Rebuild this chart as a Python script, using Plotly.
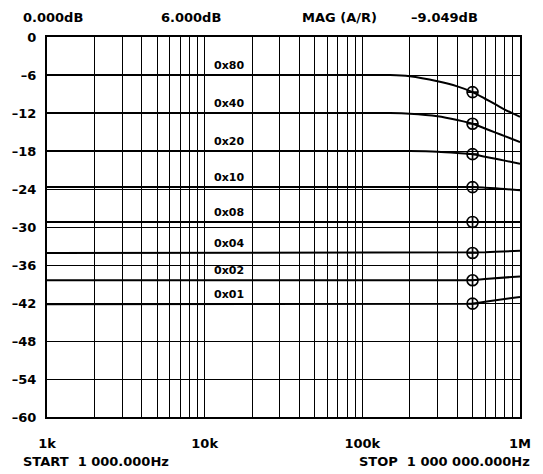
import math
import plotly.graph_objects as go

freq_hz = [1000, 10000, 100000, 150000, 200000, 300000, 400000, 500000, 600000, 700000, 800000, 1000000]

series_names = ["0x80", "0x40", "0x20", "0x10", "0x08", "0x04", "0x02", "0x01"]
mag_0x80 = [-6.0, -6.0, -6.0, -6.0, -6.2, -7.0, -7.8, -8.7, -9.75, -10.65, -11.45, -12.6]
mag_0x40 = [-12.0, -12.0, -12.0, -12.0, -12.1, -12.5, -13.1, -13.7, -14.45, -15.1, -15.65, -16.6]
mag_0x20 = [-18.0, -18.0, -18.0, -18.0, -18.0, -18.1, -18.3, -18.5, -18.9, -19.23, -19.52, -20.0]
mag_0x10 = [-23.7, -23.7, -23.7, -23.7, -23.7, -23.7, -23.7, -23.7, -23.8, -23.9, -24.0, -24.2]
mag_0x08 = [-29.2, -29.2, -29.2, -29.2, -29.2, -29.2, -29.2, -29.2, -29.2, -29.2, -29.2, -29.2]
mag_0x04 = [-34.1, -34.1, -34.1, -34.1, -34.1, -34.1, -34.1, -34.1, -34.0, -33.9, -33.85, -33.75]
mag_0x02 = [-38.4, -38.4, -38.4, -38.4, -38.4, -38.4, -38.4, -38.4, -38.2, -38.05, -37.95, -37.8]
mag_0x01 = [-42.2, -42.2, -42.2, -42.2, -42.2, -42.2, -42.2, -42.1, -41.8, -41.55, -41.35, -41.05]
all_series = [mag_0x80, mag_0x40, mag_0x20, mag_0x10, mag_0x08, mag_0x04, mag_0x02, mag_0x01]
smooth_series = ["0x80", "0x40", "0x20", "0x10"]

marker_freq = 500000
label_freq = 14300

y_ticks = [0, -6, -12, -18, -24, -30, -36, -42, -48, -54, -60]
y_tick_text = ["0", "–6", "–12", "–18", "–24", "–30", "–36", "–42", "–48", "–54", "–60"]
x_decades = [1000, 10000, 100000, 1000000]
x_decade_text = ["1k", "10k", "100k", "1M"]

header_texts = ["0.000dB", "6.000dB", "MAG (A/R)", "–9.049dB"]
footer_texts = ["START\u00a0 1 000.000Hz", "STOP\u00a0 1 000 000.000Hz"]

FONT = "DejaVu Sans"
W, H = 543, 474
L, R, T, B = 43, 20, 37, 57
PW = W - L - R
PH = H - T - B

fig = go.Figure()
idx = freq_hz.index(marker_freq)
for name, vals in zip(series_names, all_series):
    shape = "spline" if name in smooth_series else "linear"
    fig.add_trace(go.Scatter(x=freq_hz, y=vals, mode="lines", name=name,
                             line=dict(color="black", width=2, shape=shape, smoothing=0.8),
                             showlegend=False, hoverinfo="skip"))
    fig.add_annotation(x=math.log10(label_freq), y=vals[0], text="<b>%s</b>" % name,
                       showarrow=False, yanchor="bottom", yshift=1, xref="x", yref="y",
                       font=dict(family=FONT, size=11, color="black"))

fig.add_trace(go.Scatter(x=[marker_freq] * len(all_series), y=[v[idx] for v in all_series],
                         mode="markers", showlegend=False, hoverinfo="skip",
                         marker=dict(symbol="circle-cross-open", size=11, color="black",
                                     line=dict(width=1.6, color="black"))))

# gridlines at every 1..9 multiple per decade
grid_vals = []
grid_text = []
for d in [1000, 10000, 100000]:
    for m in range(1, 10):
        grid_vals.append(d * m)
        grid_text.append("")
grid_vals.append(1000000)
grid_text.append("")
for dv, dt in zip(x_decades, x_decade_text):
    grid_text[grid_vals.index(dv)] = "<b>%s</b>" % dt

fig.update_xaxes(type="log", range=[3, 6], tickvals=grid_vals, ticktext=grid_text,
                 showgrid=True, gridcolor="black", gridwidth=1, zeroline=False,
                 showline=True, linecolor="black", linewidth=2, mirror=True,
                 ticks="", ticklabelstandoff=13,
                 tickfont=dict(family=FONT, size=13, color="black"))
fig.update_yaxes(range=[-60, 0], tickvals=y_ticks, ticktext=["<b>%s</b>" % t for t in y_tick_text],
                 showgrid=True, gridcolor="black", gridwidth=1, zeroline=False,
                 showline=True, linecolor="black", linewidth=2, mirror=True,
                 ticks="", ticklabelstandoff=6,
                 tickfont=dict(family=FONT, size=13, color="black"))

header_x = [17, 157, 300, 410]
for t, px in zip(header_texts, header_x):
    fig.add_annotation(x=(px - L) / PW, y=1, yshift=20, xref="paper", yref="paper",
                       text="<b>%s</b>" % t, showarrow=False, xanchor="left", yanchor="middle",
                       font=dict(family=FONT, size=13, color="black"))
fig.add_annotation(x=(17 - L) / PW, y=0, yshift=-44, xref="paper", yref="paper",
                   text="<b>%s</b>" % footer_texts[0], showarrow=False, xanchor="left", yanchor="middle",
                   font=dict(family=FONT, size=13, color="black"))
fig.add_annotation(x=(535 - L) / PW, y=0, yshift=-44, xref="paper", yref="paper",
                   text="<b>%s</b>" % footer_texts[1], showarrow=False, xanchor="right", yanchor="middle",
                   font=dict(family=FONT, size=13, color="black"))

fig.update_layout(width=W, height=H, margin=dict(l=L, r=R, t=T, b=B),
                  plot_bgcolor="white", paper_bgcolor="white", hovermode=False)
fig.write_html("out.html", config={"displayModeBar": False, "staticPlot": True},
               post_script="document.body.style.margin='0';document.body.style.overflow='hidden';")
